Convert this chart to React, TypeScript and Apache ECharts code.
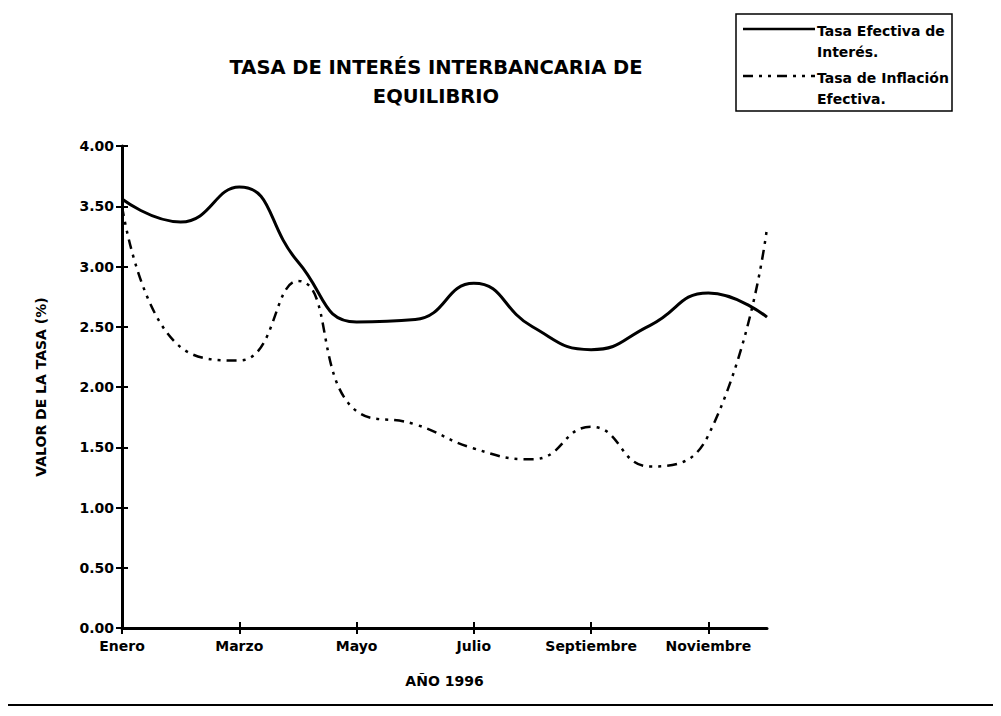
import React, { useEffect, useRef } from "react";
import * as echarts from "echarts";

const months = [
  "Enero", "Febrero", "Marzo", "Abril", "Mayo", "Junio",
  "Julio", "Agosto", "Septiembre", "Octubre", "Noviembre", "Diciembre",
];
const tasaEfectiva = [3.56, 3.37, 3.66, 3.04, 2.54, 2.56, 2.86, 2.5, 2.31, 2.51, 2.78, 2.58];
const tasaInflacion = [3.5, 2.33, 2.22, 2.88, 1.8, 1.69, 1.49, 1.4, 1.67, 1.34, 1.6, 3.32];
const titleText = "TASA DE INTERÉS INTERBANCARIA DE\nEQUILIBRIO";
const legendNames = ["Tasa Efectiva de\nInterés.", "Tasa de Inflación\nEfectiva."];
const xName = "AÑO 1996";
const yName = "VALOR DE LA TASA (%)";

const FONT = "DejaVu Sans, Arial, sans-serif";
const DASH = [10, 6, 3, 6, 3, 6];

export default function App() {
  const ref = useRef<HTMLDivElement>(null);
  useEffect(() => {
    if (!ref.current) return;
    const chart = echarts.init(ref.current, undefined, { renderer: "svg" });
    const txt = { fontFamily: FONT, fontSize: 14, fontWeight: "bold", color: "#000" };
    chart.setOption({
      animation: false,
      backgroundColor: "#ffffff",
      title: {
        text: titleText,
        left: 431,
        top: 48,
        textAlign: "center",
        textStyle: { fontFamily: FONT, fontSize: 19.5, fontWeight: "bold", color: "#000", lineHeight: 29 },
      },
      grid: { left: 122, top: 146, right: 234, bottom: 88, containLabel: false },
      xAxis: [
        {
          type: "category",
          data: months,
          boundaryGap: false,
          name: xName,
          nameLocation: "middle",
          nameGap: 46,
          nameTextStyle: txt,
          axisLine: { lineStyle: { color: "#000", width: 3 } },
          axisTick: { show: true, length: 6, inside: false, lineStyle: { color: "#000", width: 2 } },
          axisLabel: { interval: 1, margin: 11, ...txt },
          splitLine: { show: false },
        },
        {
          type: "category",
          data: months,
          boundaryGap: false,
          position: "bottom",
          axisLine: { show: false },
          axisTick: { show: true, length: 6, inside: true, lineStyle: { color: "#000", width: 2 } },
          axisLabel: { show: false },
          splitLine: { show: false },
        },
      ],
      yAxis: [
        {
          type: "value",
          min: 0,
          max: 4,
          interval: 0.5,
          name: yName,
          nameLocation: "middle",
          nameRotate: 90,
          nameGap: 74,
          nameTextStyle: txt,
          axisLine: { show: true, lineStyle: { color: "#000", width: 3 } },
          axisTick: { show: true, length: 6, lineStyle: { color: "#000", width: 2 } },
          axisLabel: {
            margin: 8,
            ...txt,
            formatter: (v: number) => v.toFixed(2),
          },
          splitLine: { show: false },
        },
        {
          type: "value",
          min: 0,
          max: 4,
          interval: 0.5,
          position: "left",
          axisLine: { show: false },
          axisTick: { show: true, length: 6, inside: true, lineStyle: { color: "#000", width: 2 } },
          axisLabel: { show: false },
          splitLine: { show: false },
        },
      ],
      series: [
        {
          name: "Tasa Efectiva de Interés.",
          type: "line",
          data: tasaEfectiva,
          smooth: 0.5,
          symbol: "none",
          lineStyle: { color: "#000", width: 3 },
        },
        {
          name: "Tasa de Inflación Efectiva.",
          type: "line",
          data: tasaInflacion,
          smooth: 0.5,
          symbol: "none",
          lineStyle: { color: "#000", width: 2.5, type: DASH },
        },
      ],
      graphic: [
        {
          type: "rect",
          shape: { x: 736, y: 14, width: 216, height: 97 },
          style: { fill: "#fff", stroke: "#000", lineWidth: 1.5 },
          silent: true,
        },
        {
          type: "line",
          shape: { x1: 743, y1: 29, x2: 815, y2: 29 },
          style: { stroke: "#000", lineWidth: 2.5 },
        },
        {
          type: "line",
          shape: { x1: 743, y1: 76, x2: 815, y2: 76 },
          style: { stroke: "#000", lineWidth: 2.5, lineDash: DASH },
        },
        {
          type: "text",
          x: 817,
          y: 20,
          style: {
            text: legendNames[0],
            fontFamily: FONT,
            fontSize: 14,
            fontWeight: "bold",
            fill: "#000",
            lineHeight: 21,
            width: 134,
            overflow: "truncate",
            ellipsis: "",
          },
        },
        {
          type: "text",
          x: 817,
          y: 67,
          style: {
            text: legendNames[1],
            fontFamily: FONT,
            fontSize: 14,
            fontWeight: "bold",
            fill: "#000",
            lineHeight: 21,
            width: 134,
            overflow: "truncate",
            ellipsis: "",
          },
        },
      ],
    });
    return () => chart.dispose();
  }, []);
  return (
    <div style={{ position: "relative", width: 1001, height: 716, margin: -8 }}>
      <div ref={ref} style={{ position: "absolute", left: 0, top: 0, width: 1001, height: 716 }} />
      <div
        style={{
          position: "absolute",
          left: 3,
          top: 4,
          width: 990,
          height: 698,
          border: "2px solid #000",
          pointerEvents: "none",
        }}
      />
    </div>
  );
}
